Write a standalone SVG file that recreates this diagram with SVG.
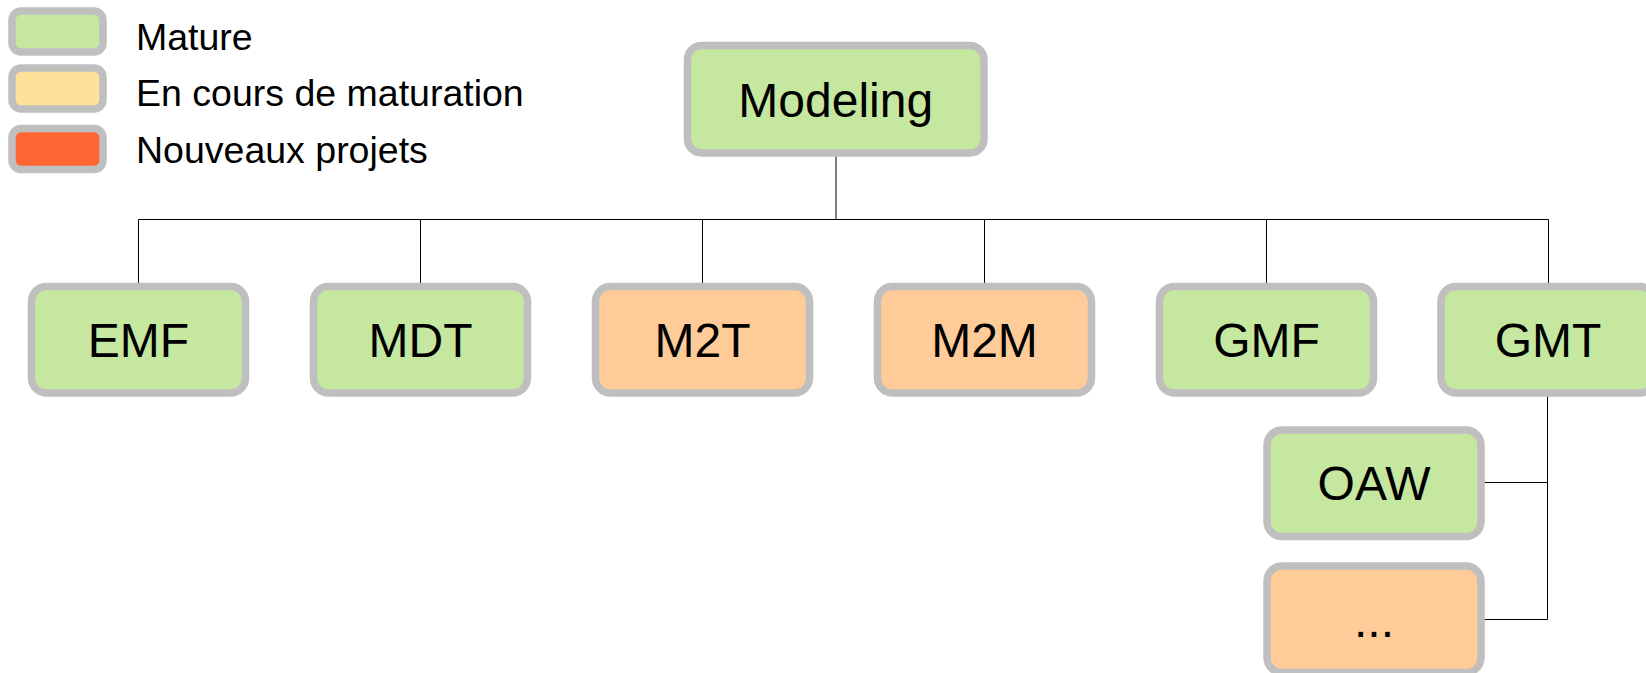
<svg xmlns="http://www.w3.org/2000/svg" width="1646" height="673" viewBox="0 0 1646 673">
<style>
.box{stroke:#BFBFBF;stroke-width:7.5}
.mature{fill:#C5E7A0}
.cours{fill:#FFE299}
.new{fill:#FF6633}
.peach{fill:#FFCC99}
.lbl{font-family:"Liberation Sans",Arial,sans-serif;font-size:48px;fill:#000;text-anchor:middle}
.leg{font-family:"Liberation Sans",Arial,sans-serif;font-size:37.5px;fill:#000}
.conn{stroke:#000;stroke-width:1;fill:none}
</style>
<rect width="1646" height="673" fill="#fff"/>
<g id="legend">
<rect class="box mature" x="12" y="11" width="91" height="41" rx="9"/>
<rect class="box cours" x="12" y="68" width="91" height="41" rx="9"/>
<rect class="box new" x="12" y="128.5" width="91" height="41" rx="9"/>
<text class="leg" x="136" y="49.5">Mature</text>
<text class="leg" x="136" y="105.5">En cours de maturation</text>
<text class="leg" x="136" y="162.5">Nouveaux projets</text>
</g>
<g id="connectors">
<path class="conn" d="M836 153 V219.5" stroke-width="2"/>
<path class="conn" d="M138.5 219.5 H1548.5"/>
<path class="conn" d="M138.5 219.5 V286 M420.5 219.5 V286 M702.5 219.5 V286 M984.5 219.5 V286 M1266.5 219.5 V286 M1548.5 219.5 V286"/>
<path class="conn" d="M1547.5 393 V619.5 H1481 M1547.5 482.5 H1481"/>
</g>
<g id="modeling">
<rect class="box mature" x="687.5" y="45.5" width="296.5" height="107.5" rx="14"/>
<text class="lbl" x="835.75" y="117">Modeling</text>
</g>
<g id="emf">
<rect class="box mature" x="31.5" y="286.5" width="214" height="106.5" rx="15"/>
<text class="lbl" x="138.5" y="356.5">EMF</text>
</g>
<g id="mdt">
<rect class="box mature" x="313.5" y="286.5" width="214" height="106.5" rx="15"/>
<text class="lbl" x="420.5" y="356.5">MDT</text>
</g>
<g id="m2t">
<rect class="box peach" x="595.5" y="286.5" width="214" height="106.5" rx="15"/>
<text class="lbl" x="702.5" y="356.5">M2T</text>
</g>
<g id="m2m">
<rect class="box peach" x="877.5" y="286.5" width="214" height="106.5" rx="15"/>
<text class="lbl" x="984.5" y="356.5">M2M</text>
</g>
<g id="gmf">
<rect class="box mature" x="1159.5" y="286.5" width="214" height="106.5" rx="15"/>
<text class="lbl" x="1266.5" y="356.5">GMF</text>
</g>
<g id="gmt">
<rect class="box mature" x="1441" y="286.5" width="214" height="106.5" rx="15"/>
<text class="lbl" x="1548" y="356.5">GMT</text>
</g>
<g id="oaw">
<rect class="box mature" x="1267" y="430" width="214" height="106.5" rx="15"/>
<text class="lbl" x="1374" y="500">OAW</text>
</g>
<g id="more">
<rect class="box peach" x="1267" y="566" width="214" height="106.5" rx="15"/>
<text class="lbl" x="1374" y="636.5">...</text>
</g>
</svg>
